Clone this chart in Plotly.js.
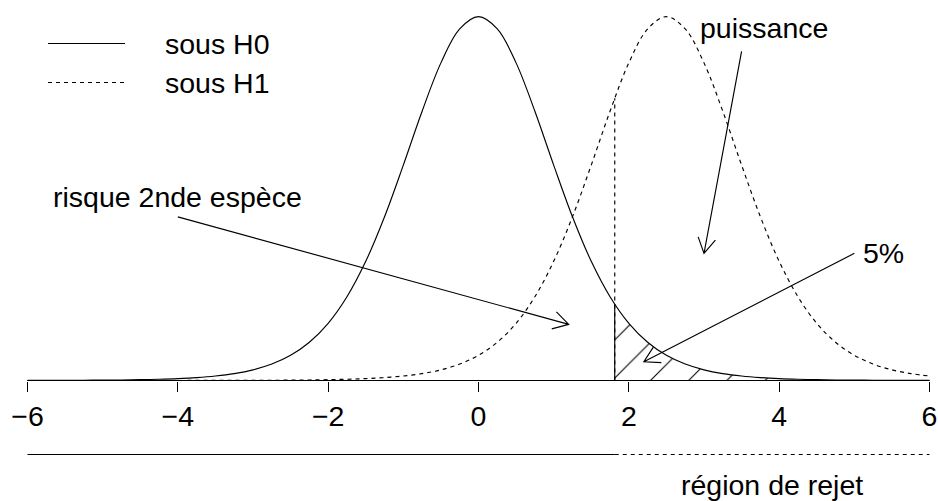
<!DOCTYPE html>
<html><head><meta charset="utf-8">
<script src="https://cdn.plot.ly/plotly-3.0.1.min.js"></script>
<style>html,body{margin:0;padding:0;background:#fff}</style>
</head><body>
<div id="chart" style="width:938px;height:501px"></div>
<script>
// ---- data ----
const xGrid = [-6,-5.75,-5.5,-5.25,-5,-4.75,-4.5,-4.25,-4,-3.75,-3.5,-3.25,-3,-2.75,-2.5,-2.25,-2,-1.75,-1.5,-1.25,-1,-0.75,-0.5,-0.25,0,0.25,0.5,0.75,1,1.25,1.5,1.75,2,2.25,2.5,2.75,3,3.25,3.5,3.75,4,4.25,4.5,4.75,5,5.25,5.5,5.75,6];
const densityH0 = [0.00009,0.00013,0.00018,0.00027,0.00040,0.00059,0.00088,0.00134,0.00203,0.00311,0.00478,0.00738,0.01140,0.01757,0.02694,0.04090,0.06115,0.08957,0.12744,0.17511,0.23038,0.28798,0.33970,0.37600,0.38911,0.37600,0.33970,0.28798,0.23038,0.17511,0.12744,0.08957,0.06115,0.04090,0.02694,0.01757,0.01140,0.00738,0.00478,0.00311,0.00203,0.00134,0.00088,0.00059,0.00040,0.00027,0.00018,0.00013,0.00009];
const densityH1 = [0.0000036,0.0000048,0.0000065,0.0000087,0.0000118,0.0000162,0.0000224,0.0000311,0.0000437,0.0000618,0.0000881,0.000127,0.000184,0.000268,0.000396,0.000589,0.000883,0.001335,0.002031,0.003109,0.004782,0.00738,0.01140,0.01757,0.02694,0.04090,0.06115,0.08957,0.12744,0.17511,0.23038,0.28798,0.33970,0.37600,0.38911,0.37600,0.33970,0.28798,0.23038,0.17511,0.12744,0.08957,0.06115,0.04090,0.02694,0.01757,0.01140,0.00738,0.00478];
const criticalValue = 1.8125;
const h0AtCritical = 0.0816;
const h1AtCritical = 0.3018;
const tickValues = [-6,-4,-2,0,2,4,6];
const tickLabels = ['\u22126','\u22124','\u22122','0','2','4','6'];
const legendLabels = ['sous H0','sous H1'];
const labelRisk = 'risque 2nde espèce';
const labelPower = 'puissance';
const labelAlpha = '5%';
const labelRegion = 'région de rejet';

// ---- layout geometry ----
const FONT = 'Liberation Sans, Arial, Helvetica, sans-serif';
const FS = 28.5;
const LW = 1.15;
const PX_PER_X = 75.1667, PX_PER_Y = 935;
const xRange = [-478.5/PX_PER_X, (938-478.5)/PX_PER_X];
const yRange = [-(501-380.5)/PX_PER_Y, 380.5/PX_PER_Y];
const rejectLevel = -(454.5-380.5)/PX_PER_Y;

function arrowPath(x0,y0,x1,y1){
  const len = 17.5, ang = Math.PI/6;
  const dx = (x0-x1)*PX_PER_X, dy = -(y0-y1)*PX_PER_Y;
  const L = Math.hypot(dx,dy), ux = dx/L, uy = dy/L;
  const rot = a => [ux*Math.cos(a) - uy*Math.sin(a), ux*Math.sin(a) + uy*Math.cos(a)];
  const [ax,ay] = rot(ang), [bx,by] = rot(-ang);
  const hax = x1 + ax*len/PX_PER_X, hay = y1 - ay*len/PX_PER_Y;
  const hbx = x1 + bx*len/PX_PER_X, hby = y1 - by*len/PX_PER_Y;
  return `M${x0},${y0}L${x1},${y1}M${hax},${hay}L${x1},${y1}L${hbx},${hby}`;
}

const hatchX = [criticalValue].concat(xGrid.filter(v => v > criticalValue));
const hatchY = [h0AtCritical].concat(densityH0.filter((v,i) => xGrid[i] > criticalValue));

const DASH = '4px,4px';
const traces = [
  {x: hatchX, y: hatchY, mode:'lines', line:{width:0, shape:'spline', smoothing:1}, fill:'tozeroy',
   fillcolor:'rgba(0,0,0,0)',
   fillpattern:{shape:'/', size:27, solidity:0.04, fgcolor:'black', bgcolor:'rgba(0,0,0,0)'}, hoverinfo:'skip'},
  {x: xGrid, y: densityH0, mode:'lines', line:{color:'black', width:LW, shape:'spline', smoothing:1}},
  {x: xGrid, y: densityH1, mode:'lines', line:{color:'black', width:LW, dash:DASH, shape:'spline', smoothing:1}},
  {x: [criticalValue, criticalValue], y: [0, h1AtCritical], mode:'lines', line:{color:'black', width:LW, dash:DASH}},
  {x: [criticalValue, criticalValue], y: [0, h0AtCritical], mode:'lines', line:{color:'black', width:LW}},
  {x: [tickValues[0], tickValues[tickValues.length-1]], y: [0,0], mode:'lines', line:{color:'black', width:1}},
  {x: [tickValues[0], criticalValue], y: [rejectLevel, rejectLevel], mode:'lines', line:{color:'black', width:1}},
  {x: [criticalValue, tickValues[tickValues.length-1]], y: [rejectLevel, rejectLevel], mode:'lines', line:{color:'black', width:1, dash:DASH}}
];

const legX0 = (48-478.5)/PX_PER_X, legX1 = (125-478.5)/PX_PER_X, legTextX = (163-478.5)/PX_PER_X;
const legY = [(380.5-43.5)/PX_PER_Y, (380.5-82.5)/PX_PER_Y];

const shapes = [
  {type:'line', xref:'x', yref:'y', x0:legX0, x1:legX1, y0:legY[0], y1:legY[0], line:{color:'black', width:1}},
  {type:'line', xref:'x', yref:'y', x0:legX0, x1:legX1, y0:legY[1], y1:legY[1], line:{color:'black', width:1, dash:DASH}},
  {type:'path', xref:'x', yref:'y', path: arrowPath(-4.0, 0.175, 1.2, 0.06), line:{color:'black', width:LW}},
  {type:'path', xref:'x', yref:'y', path: arrowPath(3.5, 0.352, 3.0, 0.136), line:{color:'black', width:LW}},
  {type:'path', xref:'x', yref:'y', path: arrowPath(5.0, 0.136, 2.2, 0.02), line:{color:'black', width:LW}}
];

const ann = (text, x, y, xanchor) => ({text, x, y, xref:'x', yref:'y', showarrow:false,
  xanchor: xanchor || 'center', yanchor:'middle', font:{family:FONT, size:FS, color:'black'}});
const annotations = [
  ann(legendLabels[0], legTextX, legY[0], 'left'),
  ann(legendLabels[1], legTextX, legY[1], 'left'),
  ann(labelRisk, -4.0, 0.196),
  ann(labelPower, 3.8, 0.377),
  ann(labelAlpha, 5.39, 0.1364),
  ann(labelRegion, (criticalValue + tickValues[tickValues.length-1])/2, -(485-380.5)/PX_PER_Y)
];

const layout = {
  width:938, height:501, margin:{l:0,r:0,t:0,b:0,pad:0},
  paper_bgcolor:'white', plot_bgcolor:'white', showlegend:false,
  font:{family:FONT, size:FS, color:'black'},
  xaxis:{range:xRange, anchor:'free', position:(501-380.5)/501, showgrid:false, zeroline:false, showline:false,
         ticks:'outside', ticklen:10, tickwidth:1, tickcolor:'black', tickmode:'array', tickvals:tickValues, ticktext:tickLabels,
         tickfont:{family:FONT, size:FS, color:'black'}, automargin:false, fixedrange:true},
  yaxis:{range:yRange, visible:false, fixedrange:true, automargin:false},
  shapes, annotations
};
Plotly.newPlot('chart', traces, layout, {staticPlot:true, displayModeBar:false});
</script>
</body></html>
